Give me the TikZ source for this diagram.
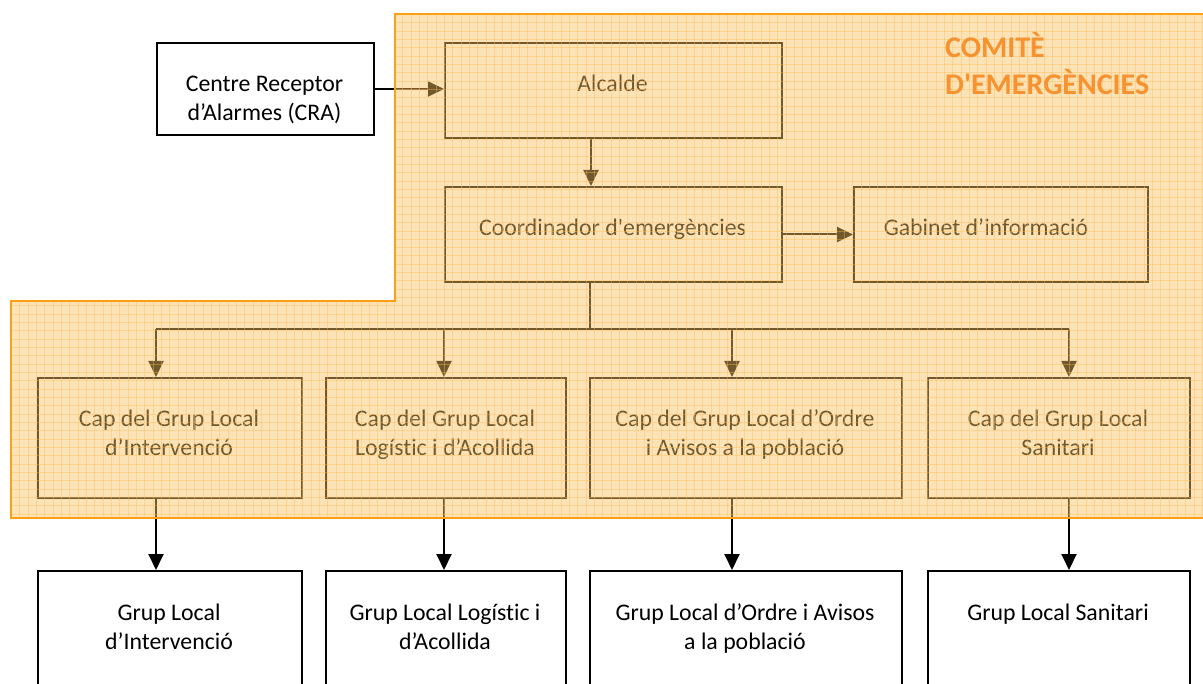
\documentclass[tikz,border=0pt]{standalone}
\usepackage{fontspec}
\setmainfont{Carlito}[Ligatures={NoCommon,TeX}]
\usetikzlibrary{arrows.meta}
\definecolor{ovl}{RGB}{250,195,100}
\definecolor{gridc}{RGB}{255,185,80}
\definecolor{brd}{RGB}{255,160,20}
\definecolor{ttl}{RGB}{246,146,48}
\begin{document}
\begin{tikzpicture}[x=1pt,y=-1pt,
  box/.style={draw=black, line width=2pt, inner sep=0pt, anchor=north west},
  txt/.style={font=\fontsize{23.8}{29}\selectfont, align=center, inner sep=0pt, anchor=base},
  ln/.style={line width=2pt},
  arr/.style={line width=2pt, -{Triangle[length=16pt,width=15pt]}}]
\clip (0,0) rectangle (1203,684);
\fill[white] (0,0) rectangle (1203,684);
% boxes
\node[box, minimum width=217pt, minimum height=92pt] (cra) at (156,42) {};
\node[box, minimum width=337pt, minimum height=95pt] (alc) at (444,42) {};
\node[box, minimum width=337pt, minimum height=95pt] (coord) at (444,186) {};
\node[box, minimum width=294pt, minimum height=95pt] (gab) at (853,186) {};
\node[box, minimum width=264pt, minimum height=120pt] (cap1) at (37,377) {};
\node[box, minimum width=240pt, minimum height=120pt] (cap2) at (325,377) {};
\node[box, minimum width=312pt, minimum height=120pt] (cap3) at (589,377) {};
\node[box, minimum width=262pt, minimum height=120pt] (cap4) at (927,377) {};
\node[box, minimum width=264pt, minimum height=140pt] (g1) at (37,570) {};
\node[box, minimum width=240pt, minimum height=140pt] (g2) at (325,570) {};
\node[box, minimum width=312pt, minimum height=140pt] (g3) at (589,570) {};
\node[box, minimum width=262pt, minimum height=140pt] (g4) at (927,570) {};
% texts (base = baseline of last line)
\node[txt] (cra-t) at (264.5,121) {Centre Receptor\\d’Alarmes (CRA)};
\node[txt] (alc-t) at (612.5,92) {Alcalde};
\node[txt] (coord-t) at (612.5,236) {Coordinador d\textquotesingle emergències};
\node[txt] (gab-t) at (986,236) {Gabinet d’informació};
\node[txt] (cap1-t) at (169,456) {Cap del Grup Local\\d’Intervenció};
\node[txt] (cap2-t) at (445,456) {Cap del Grup Local\\Logístic i d’Acollida};
\node[txt] (cap3-t) at (745,456) {Cap del Grup Local d’Ordre\\i Avisos a la població};
\node[txt] (cap4-t) at (1058,456) {Cap del Grup Local\\Sanitari};
\node[txt] (g1-t) at (169,649) {Grup Local\\d’Intervenció};
\node[txt] (g2-t) at (445,649) {Grup Local Logístic i\\d’Acollida};
\node[txt] (g3-t) at (745,649) {Grup Local d’Ordre i Avisos\\a la població};
\node[txt] (g4-t) at (1058,620) {Grup Local Sanitari};
% connectors
\draw[arr] (cra.east) -- (cra.east -| alc.west);
\draw[arr] ([xshift=-22.5pt]alc.south) -- ([xshift=-22.5pt]coord.north);
\draw[arr] (coord.east) -- (gab.west);
\coordinate (a1) at (156,329);
\coordinate (a2) at (444,329);
\coordinate (a3) at (732,329);
\coordinate (a4) at (1069,329);
\draw[ln] ([xshift=-23.5pt]coord.south) -- ([xshift=-23.5pt]coord.south |- a1);
\draw[ln] (a1) -- (a4);
\foreach \i in {1,2,3,4}{
  \draw[arr] (a\i) -- (a\i |- cap\i.north);
  \draw[arr] (a\i |- cap\i.south) -- (a\i |- g\i.north);
}
% overlay
\fill[ovl, fill opacity=0.46] (395,14) -- (1215,14) -- (1215,518) -- (11,518) -- (11,301) -- (395,301) -- cycle;
\begin{scope}
\clip (395,14) -- (1215,14) -- (1215,518) -- (11,518) -- (11,301) -- (395,301) -- cycle;
\foreach \k in {0,...,146}{\draw[gridc, opacity=0.4, line width=0.8pt] (\k*8.33+3,0) -- (\k*8.33+3,530);}
\foreach \k in {0,...,64}{\draw[gridc, opacity=0.4, line width=0.8pt] (0,\k*8.33+6) -- (1215,\k*8.33+6);}
\end{scope}
\draw[brd, line width=2pt] (395,14) -- (1215,14) -- (1215,518) -- (11,518) -- (11,301) -- (395,301) -- cycle;
\node[anchor=base west, inner sep=0pt, align=left, text=ttl, font=\fontsize{30}{37}\selectfont\bfseries] (title) at (945,95) {COMITÈ\\D\textquotesingle EMERGÈNCIES};
\end{tikzpicture}
\end{document}
